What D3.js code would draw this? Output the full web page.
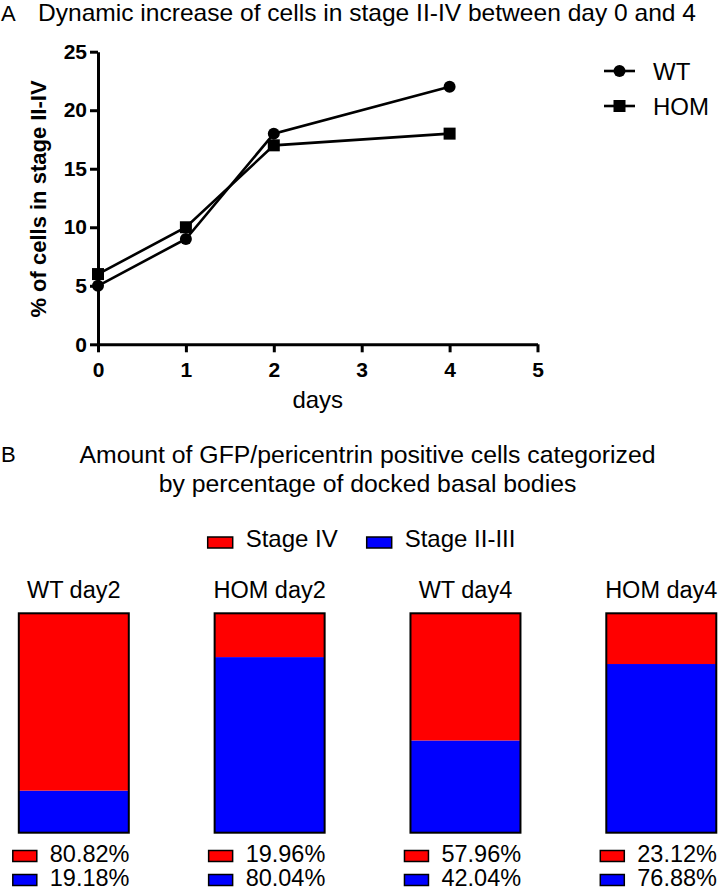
<!DOCTYPE html>
<html>
<head>
<meta charset="utf-8">
<script src="https://cdn.jsdelivr.net/npm/d3@7"></script>
<style>
  html, body { margin: 0; padding: 0; background: #fff; }
  svg { display: block; font-family: "Liberation Sans", Arial, Helvetica, sans-serif; }
</style>
</head>
<body>
<svg id="chart" width="720" height="892"></svg>
<script>
// ---------- Panel A data ----------
const days = [0, 1, 2, 4];
const wtValues = [5, 9, 18, 22];
const homValues = [6, 10, 17, 18];
const lineSeriesNames = ["WT", "HOM"];
const xTicks = [0, 1, 2, 3, 4, 5];
const yTicks = [0, 5, 10, 15, 20, 25];
const titleA = "Dynamic increase of cells in stage II-IV between day 0 and 4";
const yLabelA = "% of cells in stage II-IV";
const xLabelA = "days";

// ---------- Panel B data ----------
const barCategories = ["WT day2", "HOM day2", "WT day4", "HOM day4"];
const stageIV = [80.82, 19.96, 57.96, 23.12];
const stageIIIII = [19.18, 80.04, 42.04, 76.88];
const stageNames = ["Stage IV", "Stage II-III"];
const stageColors = ["#ff0000", "#0000ff"];
const titleB = ["Amount of GFP/pericentrin positive cells categorized", "by percentage of docked basal bodies"];

const svg = d3.select("#chart");

// ================= Panel A =================
svg.append("text").attr("x", 1).attr("y", 21).attr("font-size", 22).text("A");
svg.append("text").attr("x", 38).attr("y", 21).attr("font-size", 24)
  .attr("textLength", 658).attr("lengthAdjust", "spacingAndGlyphs").text(titleA);

const xA = d3.scaleLinear().domain([0, 5]).range([98, 537.5]);
const yA = d3.scaleLinear().domain([0, 25]).range([344.3, 51.7]);

const axisStyle = g => {
  g.selectAll("path.domain").attr("stroke", "#000").attr("stroke-width", 3);
  g.selectAll(".tick line").attr("stroke", "#000").attr("stroke-width", 3);
  g.selectAll(".tick text").attr("font-size", 21).attr("font-weight", "bold").attr("fill", "#000")
    .attr("font-family", "'Liberation Sans', Arial, sans-serif");
};

svg.append("g")
  .attr("transform", `translate(0,${yA(0)})`)
  .call(d3.axisBottom(xA).tickValues(xTicks).tickFormat(d3.format("d")).tickSize(8).tickSizeOuter(0).tickPadding(10))
  .call(axisStyle);

svg.append("g")
  .attr("transform", `translate(${xA(0)},0)`)
  .call(d3.axisLeft(yA).tickValues(yTicks).tickFormat(d3.format("d")).tickSize(8).tickSizeOuter(0).tickPadding(3))
  .call(axisStyle);

svg.append("text")
  .attr("transform", `translate(46,199) rotate(-90)`)
  .attr("text-anchor", "middle").attr("font-size", 22).attr("font-weight", "bold")
  .text(yLabelA);

svg.append("text")
  .attr("x", (xA(0) + xA(5)) / 2).attr("y", 407.7)
  .attr("text-anchor", "middle").attr("font-size", 24)
  .text(xLabelA);

const line = d3.line().x(d => xA(d[0])).y(d => yA(d[1]));
const seriesA = [wtValues, homValues].map(vals => days.map((d, i) => [d, vals[i]]));

seriesA.forEach(pts => {
  svg.append("path").datum(pts).attr("d", line)
    .attr("fill", "none").attr("stroke", "#000").attr("stroke-width", 2.6);
});
// markers
svg.append("g").selectAll("circle").data(seriesA[0]).join("circle")
  .attr("cx", d => xA(d[0])).attr("cy", d => yA(d[1])).attr("r", 6).attr("fill", "#000");
svg.append("g").selectAll("rect").data(seriesA[1]).join("rect")
  .attr("x", d => xA(d[0]) - 6).attr("y", d => yA(d[1]) - 6).attr("width", 12).attr("height", 12).attr("fill", "#000");

// legend A
const legA = svg.append("g");
lineSeriesNames.forEach((name, i) => {
  const cy = 71 + i * 35;
  legA.append("line").attr("x1", 604).attr("x2", 635).attr("y1", cy).attr("y2", cy)
    .attr("stroke", "#000").attr("stroke-width", 2.6);
  if (i === 0) {
    legA.append("circle").attr("cx", 619.5).attr("cy", cy).attr("r", 6).attr("fill", "#000");
  } else {
    legA.append("rect").attr("x", 613.5).attr("y", cy - 6).attr("width", 12).attr("height", 12).attr("fill", "#000");
  }
  legA.append("text").attr("x", 653).attr("y", cy + 9).attr("font-size", 24).text(name);
});

// ================= Panel B =================
svg.append("text").attr("x", 1).attr("y", 461.5).attr("font-size", 22).text("B");
titleB.forEach((t, i) => {
  svg.append("text").attr("x", 367.5).attr("y", 463 + i * 29)
    .attr("text-anchor", "middle").attr("font-size", 24.8).text(t);
});

// legend B
const legBItems = [{ x: 207.7 }, { x: 366.7 }];
stageNames.forEach((name, i) => {
  const lx = legBItems[i].x;
  svg.append("rect").attr("x", lx).attr("y", 537).attr("width", 25).attr("height", 11)
    .attr("fill", stageColors[i]).attr("stroke", "#000").attr("stroke-width", 1.5);
  svg.append("text").attr("x", lx + 38).attr("y", 547).attr("font-size", 24).text(name);
});

const xB = d3.scalePoint().domain(barCategories).range([73.8, 661.3]);
const barW = 110;
const yB = d3.scaleLinear().domain([0, 100]).range([832.7, 613.3]);

barCategories.forEach((cat, i) => {
  const cx = xB(cat);
  const left = cx - barW / 2;
  const g = svg.append("g");
  // title
  g.append("text").attr("x", cx).attr("y", 598).attr("text-anchor", "middle").attr("font-size", 23.5).text(cat);
  // stacked: blue bottom, red top
  const blue = stageIIIII[i];
  const red = stageIV[i];
  g.append("rect").attr("x", left).attr("width", barW)
    .attr("y", yB(blue)).attr("height", yB(0) - yB(blue)).attr("fill", stageColors[1]);
  g.append("rect").attr("x", left).attr("width", barW)
    .attr("y", yB(blue + red)).attr("height", yB(blue) - yB(blue + red)).attr("fill", stageColors[0]);
  g.append("rect").attr("x", left).attr("width", barW)
    .attr("y", yB(100)).attr("height", yB(0) - yB(100))
    .attr("fill", "none").attr("stroke", "#000").attr("stroke-width", 2);
  // value labels
  [red, blue].forEach((v, j) => {
    const base = 862 + j * 24;
    g.append("rect").attr("x", left - 6).attr("y", base - 11.5).attr("width", 24).attr("height", 11)
      .attr("fill", stageColors[j]).attr("stroke", "#000").attr("stroke-width", 1.5);
    g.append("text").attr("x", left + 31).attr("y", base).attr("font-size", 23.5)
      .text(v.toFixed(2) + "%");
  });
});
</script>
</body>
</html>
